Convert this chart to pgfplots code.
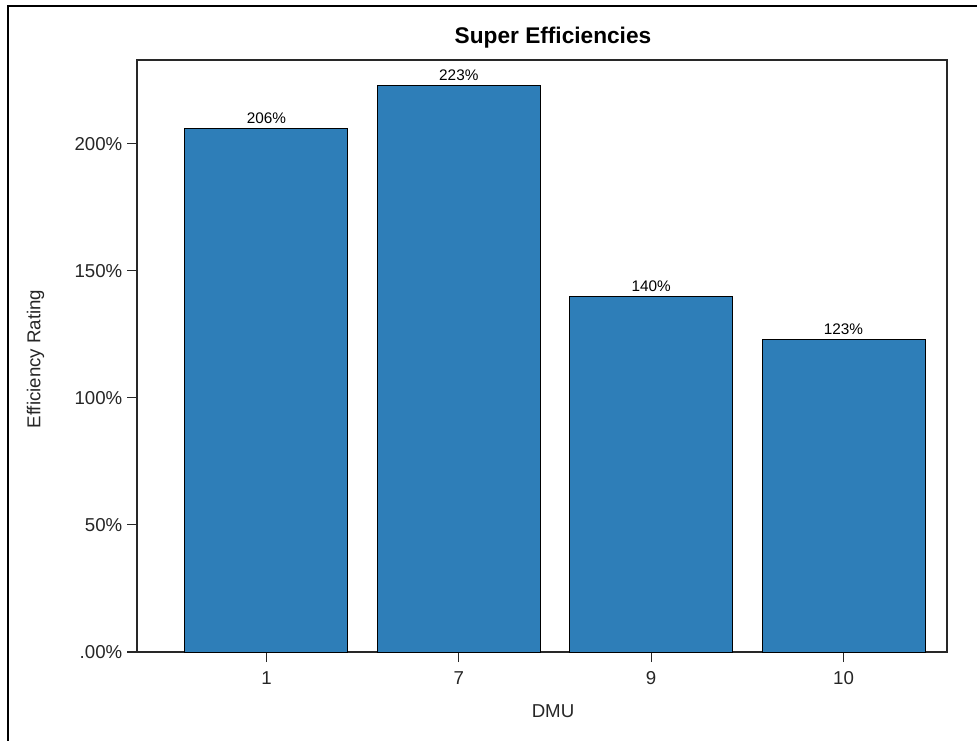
\documentclass[border=0pt]{standalone}
\usepackage{pgfplots}
\pgfplotsset{compat=1.18}
\usepackage{fontspec}
\setmainfont{Liberation Sans}
\definecolor{barblue}{RGB}{46,126,184}
\definecolor{axgray}{RGB}{40,40,40}
\begin{document}
\begin{tikzpicture}[x=0.75pt,y=0.75pt]
\useasboundingbox (0,0) rectangle (977,740);
\draw[line width=1.1pt,black] (8,-2) -- (8,734) -- (980,734);
\begin{axis}[
  at={(102.75pt,66pt)}, anchor=south west,
  scale only axis, width=607.5pt, height=444pt,
  xmin=-0.673, xmax=3.538, ymin=0, ymax=233,
  ybar, bar width=122.25pt,
  xtick={0,1,2,3}, xticklabels={1,7,9,10},
  ytick={0,50,100,150,200}, yticklabels={.00\%,50\%,100\%,150\%,200\%},
  tick align=outside, major tick length=7.5pt,
  xtick pos=lower, ytick pos=left,
  axis line style={axgray, line width=0.8pt},
  tick style={axgray, line width=0.8pt},
  ticklabel style={font=\fontsize{14}{16}\selectfont, text=black!85},
  xticklabel style={yshift=-3.5pt},
  /pgf/number format/assume math mode=true,
  nodes near coords={\pgfmathprintnumber{\pgfplotspointmeta}\%},
  nodes near coords style={font=\fontsize{11.5}{13}\selectfont, text=black, inner sep=3.5pt},
  clip=false,
]
\addplot[fill=barblue, draw=black, line width=0.7pt] coordinates {(0,206) (1,223) (2,140) (3,123)};
\end{axis}
\node[font=\bfseries\fontsize{17}{20}\selectfont] at (553,702) {Super Efficiencies};
\node[font=\fontsize{14}{16}\selectfont, text=black!85] at (553,29) {DMU};
\node[font=\fontsize{14}{16}\selectfont, text=black!85, rotate=90] at (35.5,381) {Efficiency Rating};
\end{tikzpicture}
\end{document}
